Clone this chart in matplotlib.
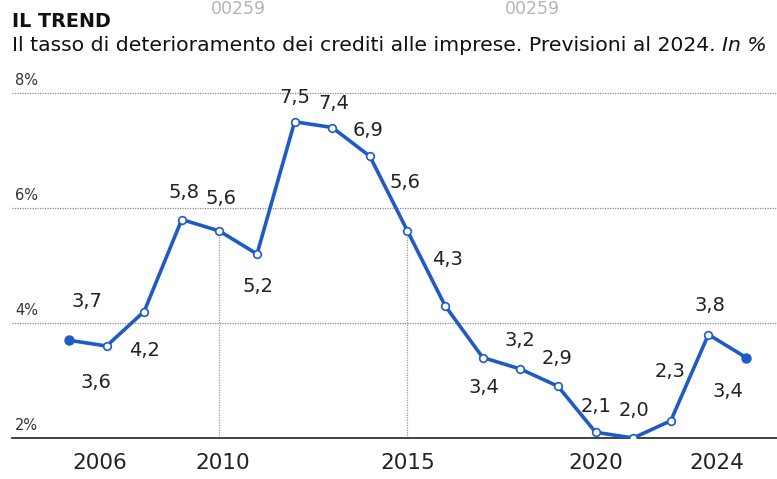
import matplotlib
matplotlib.use("Agg")
import matplotlib.pyplot as plt
from matplotlib.transforms import ScaledTranslation

# ---- data ----
years = list(range(2006, 2025))
values = [3.7, 3.6, 4.2, 5.8, 5.6, 5.2, 7.5, 7.4, 6.9, 5.6, 4.3, 3.4, 3.2, 2.9, 2.1, 2.0, 2.3, 3.8, 3.4]
value_labels = ["3,7", "3,6", "4,2", "5,8", "5,6", "5,2", "7,5", "7,4", "6,9", "5,6",
                "4,3", "3,4", "3,2", "2,9", "2,1", "2,0", "2,3", "3,8", "3,4"]
tick_years = [2006, 2010, 2015, 2020, 2024]
tick_labels = ["2006", "2010", "2015", "2020", "2024"]
y_ticks = [2, 4, 6, 8]
y_tick_labels = ["2%", "4%", "6%", "8%"]
drop_years = [2010, 2015]
title = "IL TREND"
subtitle = "Il tasso di deterioramento dei crediti alle imprese. Previsioni al 2024. "
subtitle_it = "In %"
watermark = "00259"

# ---- style / layout ----
W, H = 777, 479
BLUE = "#1e5bc6"
DARK = "#222222"
# label offsets in pixels (dx, dy image-down)
label_off = [(18, -39), (-11, 36), (0, 39), (2, -27), (2, -32), (1, 33), (0, -24), (2, -24),
             (-2, -26), (-2, -48), (2, -46), (1, 30), (0, -29), (-1, -28), (0, -26), (1, -27),
             (-1, -49), (2, -29), (-18, 34)]

fig = plt.figure(figsize=(W / 100, H / 100), dpi=100)
fig.patch.set_facecolor("white")

ax_left, ax_right, ax_bot, ax_top = 12, 777, 438, 75
ax = fig.add_axes([ax_left / W, 1 - ax_bot / H, (ax_right - ax_left) / W, (ax_bot - ax_top) / H])
px_per_unit = 57.5
px_per_year = 37.67
ax.set_ylim(2, 2 + (ax_bot - ax_top) / px_per_unit)
ax.set_xlim(2006 - (69 - ax_left) / px_per_year, 2024 + (ax_right - 746) / px_per_year)

for s in ["top", "right", "left"]:
    ax.spines[s].set_visible(False)
ax.spines["bottom"].set_color("#333333")
ax.spines["bottom"].set_linewidth(1.3)

# gridlines
for yv in y_ticks[1:]:
    ax.axhline(yv, color="#8a8a8a", lw=0.9, ls=(0, (1, 1)), zorder=1)
for yv, lab in zip(y_ticks, y_tick_labels):
    ax.annotate(lab, xy=(0, yv), xycoords=("axes fraction", "data"),
                xytext=(3, 5), textcoords="offset pixels", ha="left", va="bottom",
                fontsize=10.5, color="#333333")

# drop lines
for dy in drop_years:
    v = values[years.index(dy)]
    ax.plot([dy, dy], [2, v], color="#9a9a9a", lw=0.9, ls=(0, (1, 1)), zorder=1)

# line
ax.plot(years, values, color=BLUE, lw=2.6, zorder=3, solid_joinstyle="round")
ax.plot(years[1:-1], values[1:-1], ls="none", marker="o", ms=5.5, mfc="white",
        mec=BLUE, mew=1.2, zorder=4)
ax.plot([years[0], years[-1]], [values[0], values[-1]], ls="none", marker="o", ms=6.5,
        mfc=BLUE, mec=BLUE, zorder=4)

for x, v, lab, (dx, dy) in zip(years, values, value_labels, label_off):
    ax.annotate(lab, xy=(x, v), xytext=(dx, -dy), textcoords="offset pixels",
                ha="center", va="center", fontsize=14, color=DARK, zorder=5)

# x ticks
ax.set_yticks([])
ax.set_xticks(tick_years)
ax.set_xticklabels(tick_labels, fontsize=15.5, color=DARK)
ax.tick_params(axis="x", which="major", length=0, pad=11)
ax.set_xticks([years[0], years[-1]], minor=True)
ax.tick_params(axis="x", which="minor", direction="in", length=5, width=1, color="#333333")
shifts = {"2006": 31, "2024": -29, "2010": 3}
for lab in ax.get_xticklabels():
    s = shifts.get(lab.get_text(), 0)
    if s:
        lab.set_transform(lab.get_transform() + ScaledTranslation(s / 100, 0, fig.dpi_scale_trans))

# title and subtitle
fig.text(12 / W, 1 - 27 / H, title, fontsize=13.8, fontweight="heavy", color="#111111",
         ha="left", va="baseline")
t1 = fig.text(12 / W, 1 - 51 / H, subtitle, fontsize=14.7, color="#111111", ha="left", va="baseline")
fig.canvas.draw()
bb = t1.get_window_extent(renderer=fig.canvas.get_renderer())
fig.text(bb.x1 / W, 1 - 51 / H, subtitle_it, fontsize=14.7, style="italic", color="#111111",
         ha="left", va="baseline")

# watermark
for xc in (238, 532):
    fig.text(xc / W, 1 - 14 / H, watermark, fontsize=12.5, color="#b5b5b5", ha="center", va="baseline")

fig.savefig("out.png", dpi=100, facecolor="white")
